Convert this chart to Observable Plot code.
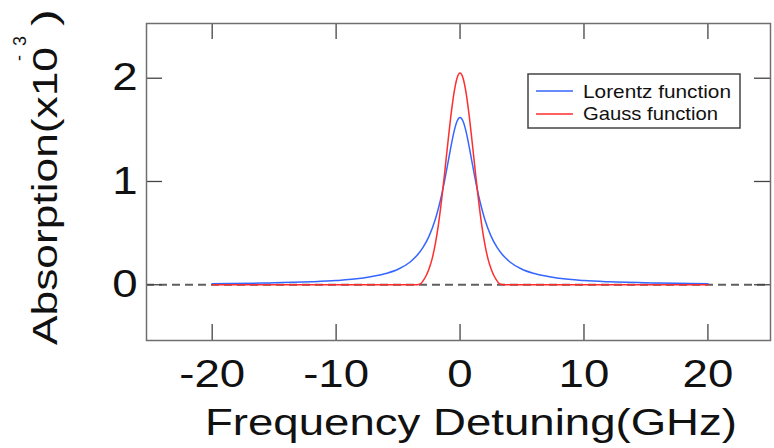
<!DOCTYPE html>
<html>
<head>
<meta charset="utf-8">
<script src="https://cdn.jsdelivr.net/npm/d3@7"></script>
<script src="https://cdn.jsdelivr.net/npm/@observablehq/plot@0.6"></script>
<style>
  html, body { margin: 0; padding: 0; background: #fff; }
  #chart { width: 774px; height: 448px; }
</style>
</head>
<body>
<div id="chart"></div>
<script>
// ---- data ----
const lorentzX = [-20, -16, -12, -10, -8, -6, -5, -4, -3.5, -3, -2.5, -2, -1.75, -1.5, -1.25, -1, -0.75, -0.5, -0.25, 0,
                  0.25, 0.5, 0.75, 1, 1.25, 1.5, 1.75, 2, 2.5, 3, 3.5, 4, 5, 6, 8, 10, 12, 16, 20];
const lorentzY = [0.010, 0.016, 0.028, 0.040, 0.062, 0.108, 0.150, 0.223, 0.280, 0.359, 0.471, 0.632, 0.738, 0.862, 1.006, 1.165, 1.328, 1.476, 1.581, 1.620,
                  1.581, 1.476, 1.328, 1.165, 1.006, 0.862, 0.738, 0.632, 0.471, 0.359, 0.280, 0.223, 0.150, 0.108, 0.062, 0.040, 0.028, 0.016, 0.010];
const gaussX = [-20, -10, -5, -3.5, -3.2, -3, -2.75, -2.5, -2.25, -2, -1.75, -1.5, -1.25, -1, -0.75, -0.5, -0.25, 0,
                0.25, 0.5, 0.75, 1, 1.25, 1.5, 1.75, 2, 2.25, 2.5, 2.75, 3, 3.2, 3.5, 5, 10, 20];
const gaussY = [0, 0, 0, 0, 0.008, 0.035, 0.085, 0.155, 0.253, 0.393, 0.578, 0.809, 1.075, 1.356, 1.625, 1.849, 1.998, 2.050,
                1.998, 1.849, 1.625, 1.356, 1.075, 0.809, 0.578, 0.393, 0.253, 0.155, 0.085, 0.035, 0.008, 0, 0, 0, 0];
const xTicks = [-20, -10, 0, 10, 20];
const yTicks = [0, 1, 2];
const seriesNames = ["Lorentz function", "Gauss function"];
const xTitle = "Frequency Detuning(GHz)";
const yTitle = "Absorption(x10";
const yTitleExp = ["-", "3"];

const blue = "#3566ff";
const red = "#ff2d2d";

const lorentz = lorentzX.map((x, i) => ({x, y: lorentzY[i]}));
const gauss = gaussX.map((x, i) => ({x, y: gaussY[i]}));

const W = 774, H = 448;
const mL = 146, mR = 4, mT = 23, mB = 108;
const plotW = W - mL - mR, plotH = H - mT - mB;
const tickLen = 16;

const chart = Plot.plot({
  width: W, height: H,
  marginLeft: mL, marginRight: mR, marginTop: mT, marginBottom: mB,
  style: {fontFamily: "'Liberation Sans', Arial, sans-serif", background: "#fff", color: "#111"},
  x: {domain: [-25.3, 25.05]},
  y: {domain: [-0.54, 2.53]},
  marks: [
    Plot.ruleY([0], {stroke: "#5f5f5f", strokeWidth: 2, strokeDasharray: "8,5"}),
    Plot.line(lorentz, {x: "x", y: "y", stroke: blue, strokeWidth: 1.5, curve: "monotone-x"}),
    Plot.line(gauss, {x: "x", y: "y", stroke: red, strokeWidth: 1.5, curve: "monotone-x"}),
    Plot.tickX(xTicks, {x: d => d, insetTop: plotH - tickLen, stroke: "#444", strokeWidth: 1.3}),
    Plot.tickX(xTicks, {x: d => d, insetBottom: plotH - tickLen, stroke: "#444", strokeWidth: 1.3}),
    Plot.tickY(yTicks, {y: d => d, insetRight: plotW - tickLen, stroke: "#444", strokeWidth: 1.3}),
    Plot.tickY(yTicks, {y: d => d, insetLeft: plotW - tickLen, stroke: "#444", strokeWidth: 1.3}),
    Plot.axisX(xTicks, {tickSize: 0, tickPadding: 20, fontSize: 38, label: null, tickFormat: d => d < 0 ? "-" + Math.abs(d) : String(d)}),
    Plot.axisY(yTicks, {tickSize: 0, tickPadding: 9, fontSize: 38, label: null, tickFormat: d => String(d)}),
    Plot.frame({stroke: "#6f6f6f", strokeWidth: 1.5})
  ]
});

document.getElementById("chart").appendChild(chart);
const svg = d3.select(chart);

function stretch(el, f) {
  const t = el.getAttribute("transform") || "";
  const x = +el.getAttribute("x") || 0, y = +el.getAttribute("y") || 0;
  el.setAttribute("transform", `${t} translate(${x},${y}) scale(${f},1) translate(${-x},${-y})`);
}
svg.selectAll('g[aria-label="x-axis tick label"] text').each(function() { stretch(this, 1.2); });
svg.selectAll('g[aria-label="y-axis tick label"] text').each(function() { stretch(this, 1.2); });

const font = "'Liberation Sans', Arial, sans-serif";

// x-axis title
svg.append("text")
  .attr("x", 471).attr("y", 435)
  .attr("text-anchor", "middle")
  .attr("font-family", font).attr("font-size", 37).attr("fill", "#111")
  .attr("textLength", 532).attr("lengthAdjust", "spacingAndGlyphs")
  .text(xTitle);

// y-axis title (rotated), built from separate pieces
const yg = svg.append("g").attr("transform", "translate(57,345) rotate(-90)")
  .attr("font-family", font).attr("fill", "#111").attr("text-anchor", "start");
yg.append("text").attr("x", 0).attr("y", 0).attr("font-size", 35)
  .attr("textLength", 298).attr("lengthAdjust", "spacingAndGlyphs").text(yTitle);
yg.append("text").attr("x", 284).attr("y", -32).attr("font-size", 18).text(yTitleExp[0]);
yg.append("text").attr("x", 299).attr("y", -31).attr("font-size", 18).text(yTitleExp[1]);
yg.append("text").attr("x", 319).attr("y", 0).attr("font-size", 35)
  .attr("textLength", 17).attr("lengthAdjust", "spacingAndGlyphs").text(")");

// legend
const lg = svg.append("g").attr("text-anchor", "start");
lg.append("rect").attr("x", 528).attr("y", 74).attr("width", 212).attr("height", 54)
  .attr("fill", "#fff").attr("stroke", "#444").attr("stroke-width", 1.5);
const legendRows = [
  {name: seriesNames[0], color: blue, ly: 91, ty: 97.5, len: 148},
  {name: seriesNames[1], color: red, ly: 114, ty: 120, len: 135}
];
legendRows.forEach(r => {
  lg.append("line").attr("x1", 536).attr("x2", 573).attr("y1", r.ly).attr("y2", r.ly)
    .attr("stroke", r.color).attr("stroke-width", 1.5);
  lg.append("text").attr("x", 583).attr("y", r.ty)
    .attr("font-family", font).attr("font-size", 19).attr("fill", "#111")
    .attr("textLength", r.len).attr("lengthAdjust", "spacingAndGlyphs")
    .text(r.name);
});
</script>
</body>
</html>
